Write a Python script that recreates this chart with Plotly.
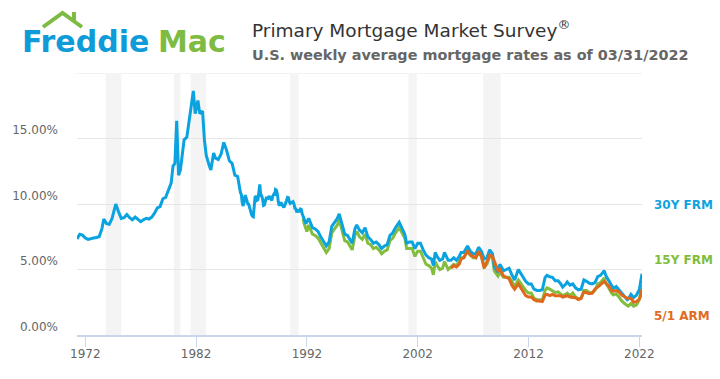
import plotly.graph_objects as go

# ---------------- data ----------------
frm30_dates = ["1971-04-02","1971-07","1971-10","1972-01","1972-04","1972-07","1972-10",
"1973-01","1973-04","1973-07","1973-09","1973-12","1974-03","1974-06","1974-10",
"1975-01","1975-04","1975-07","1975-10","1976-01","1976-04","1976-07","1976-10",
"1977-01","1977-04","1977-07","1977-10","1978-01","1978-04","1978-07","1978-10",
"1979-01","1979-04","1979-07","1979-10","1979-12","1980-02","1980-04","1980-06","1980-08","1980-10","1980-12",
"1981-03","1981-05","1981-07","1981-10","1981-12","1982-03","1982-05","1982-08","1982-10","1982-12",
"1983-03","1983-05","1983-08","1983-10","1984-01","1984-04","1984-07","1984-10",
"1985-01","1985-04","1985-07","1985-10",
"1986-01","1986-02","1986-03","1986-04","1986-05","1986-06","1986-07","1986-08","1986-09","1986-10","1986-11","1986-12",
"1987-01","1987-02","1987-03","1987-04","1987-05","1987-06","1987-07","1987-08","1987-09","1987-10","1987-11","1987-12",
"1988-01","1988-02","1988-03","1988-04","1988-05","1988-06","1988-07","1988-08","1988-09","1988-10","1988-11","1988-12",
"1989-01","1989-02","1989-03","1989-04","1989-05","1989-06","1989-07","1989-08","1989-09","1989-10","1989-11","1989-12",
"1990-01","1990-02","1990-03","1990-04","1990-05","1990-06","1990-07","1990-08","1990-09","1990-10","1990-11","1990-12",
"1991-01","1991-02","1991-03","1991-04","1991-05","1991-06","1991-07","1991-08","1991-09","1991-10","1991-11","1991-12",
"1992-03","1992-07","1992-10",
"1993-01","1993-04","1993-07","1993-10","1994-01","1994-04","1994-07","1994-10","1994-12",
"1995-03","1995-06","1995-09","1995-12","1996-02","1996-05","1996-07","1996-10",
"1997-01","1997-04","1997-07","1997-10","1998-01","1998-04","1998-07","1998-10",
"1999-01","1999-04","1999-07","1999-10","2000-01","2000-05","2000-08","2000-11",
"2001-01","2001-04","2001-07","2001-10","2002-01","2002-04","2002-07","2002-10",
"2003-01","2003-04","2003-06","2003-08","2003-10","2004-01","2004-04","2004-06","2004-10",
"2005-01","2005-04","2005-07","2005-10","2005-12","2006-03","2006-06","2006-07","2006-10",
"2007-01","2007-04","2007-07","2007-10","2008-01","2008-04","2008-07","2008-10","2008-12",
"2009-04","2009-06","2009-10","2010-01","2010-04","2010-07","2010-10",
"2011-02","2011-04","2011-07","2011-10","2012-01","2012-04","2012-07","2012-10",
"2013-01","2013-04","2013-07","2013-09","2013-12","2014-03","2014-06","2014-09","2014-12",
"2015-02","2015-05","2015-07","2015-10","2016-01","2016-04","2016-07","2016-10",
"2017-01","2017-04","2017-07","2017-10","2018-01","2018-04","2018-07","2018-11",
"2019-01","2019-04","2019-07","2019-09","2019-12","2020-03","2020-06","2020-09","2020-12",
"2021-01","2021-04","2021-07","2021-10","2022-01","2022-02","2022-03-31"]
frm30_values = [7.33,7.69,7.62,7.40,7.30,7.38,7.40,
7.44,7.50,8.10,8.85,8.50,8.45,8.90,10.0,
9.40,8.90,8.95,9.20,8.95,8.80,9.00,8.85,
8.65,8.80,8.90,8.85,9.00,9.30,9.70,9.80,
10.40,10.50,11.00,11.60,12.90,13.10,16.35,12.20,12.60,13.80,14.90,
15.10,16.10,16.80,18.63,16.90,17.90,16.90,17.10,14.90,13.70,
13.00,12.60,13.90,13.50,13.40,13.80,14.70,14.10,
13.30,13.10,12.20,12.10,
10.88,10.71,10.08,9.85,10.14,10.68,10.51,10.20,10.01,9.98,9.70,9.31,
9.20,9.08,9.04,9.83,10.60,10.54,10.28,10.33,10.89,11.50,10.65,10.64,
10.38,9.89,9.93,10.20,10.46,10.46,10.43,10.60,10.48,10.30,10.27,10.61,
10.73,10.65,11.10,11.05,10.77,10.20,9.88,9.99,10.13,9.95,9.77,9.74,
9.90,10.20,10.27,10.50,10.48,10.16,10.04,10.10,10.18,10.18,10.01,9.67,
9.64,9.37,9.50,9.49,9.47,9.62,9.58,9.24,9.01,8.86,8.71,8.50,
8.90,8.20,8.10,
7.90,7.50,7.20,6.80,7.10,8.30,8.60,8.90,9.25,
8.50,7.70,7.60,7.20,7.00,8.10,8.40,8.00,
7.80,8.20,7.50,7.30,7.00,7.10,6.90,6.60,
6.80,6.90,7.60,7.80,8.20,8.60,8.10,7.70,
7.00,7.10,7.10,6.60,7.00,7.00,6.50,6.10,
5.90,5.80,5.30,6.30,6.00,5.70,5.80,6.30,5.70,
5.70,5.90,5.70,6.00,6.30,6.30,6.70,6.80,6.40,
6.20,6.20,6.70,6.40,5.80,5.90,6.50,6.20,5.20,
4.80,5.40,4.90,5.00,5.10,4.60,4.20,
5.00,4.80,4.50,4.10,3.90,3.90,3.50,3.40,
3.40,3.45,4.40,4.55,4.45,4.40,4.15,4.15,3.90,
3.65,3.85,4.05,3.80,3.90,3.60,3.45,3.50,
4.20,4.10,3.95,3.90,4.00,4.45,4.55,4.90,
4.50,4.15,3.75,3.55,3.70,3.45,3.15,2.90,2.70,
2.75,3.10,2.85,3.05,3.45,3.90,4.67]

frm15_dates = ["1991-08-30","1991-10","1992-01","1992-03","1992-07","1992-10",
"1993-01","1993-04","1993-07","1993-10","1994-01","1994-04","1994-07","1994-10","1994-12",
"1995-03","1995-06","1995-09","1995-12","1996-02","1996-05","1996-07","1996-10",
"1997-01","1997-04","1997-07","1997-10","1998-01","1998-04","1998-07","1998-10",
"1999-01","1999-04","1999-07","1999-10","2000-01","2000-05","2000-08","2000-11",
"2001-01","2001-04","2001-07","2001-10","2002-01","2002-04","2002-07","2002-10",
"2003-01","2003-04","2003-06","2003-08","2003-10","2004-01","2004-04","2004-06","2004-10",
"2005-01","2005-04","2005-07","2005-10","2005-12","2006-03","2006-06","2006-07","2006-10",
"2007-01","2007-04","2007-07","2007-10","2008-01","2008-04","2008-07","2008-10","2008-12",
"2009-04","2009-06","2009-10","2010-01","2010-04","2010-07","2010-10",
"2011-02","2011-04","2011-07","2011-10","2012-01","2012-04","2012-07","2012-10",
"2013-01","2013-04","2013-07","2013-09","2013-12","2014-03","2014-06","2014-09","2014-12",
"2015-02","2015-05","2015-07","2015-10","2016-01","2016-04","2016-07","2016-10",
"2017-01","2017-04","2017-07","2017-10","2018-01","2018-04","2018-07","2018-11",
"2019-01","2019-04","2019-07","2019-09","2019-12","2020-03","2020-06","2020-09","2020-12",
"2021-01","2021-04","2021-07","2021-10","2022-01","2022-02","2022-03-31"]
frm15_values = [8.90,8.50,7.90,8.40,7.70,7.60,
7.40,7.00,6.70,6.30,6.60,7.80,8.10,8.40,8.80,
8.10,7.20,7.10,6.80,6.50,7.60,7.90,7.50,
7.30,7.70,7.00,6.90,6.60,6.70,6.50,6.20,
6.40,6.50,7.20,7.40,7.80,8.20,7.80,7.40,
6.60,6.60,6.60,6.00,6.40,6.40,5.90,5.40,
5.30,5.10,4.60,5.60,5.30,5.00,5.10,5.60,5.00,
5.20,5.40,5.30,5.60,5.90,5.90,6.30,6.40,6.10,
5.90,5.90,6.30,6.00,5.20,5.40,6.00,5.90,4.90,
4.50,4.80,4.40,4.40,4.40,4.10,3.70,
4.20,4.00,3.70,3.40,3.20,3.20,2.80,2.70,
2.70,2.65,3.40,3.60,3.50,3.40,3.25,3.30,3.15,
3.00,3.10,3.20,3.00,3.20,2.90,2.75,2.80,
3.40,3.40,3.25,3.20,3.40,3.90,4.00,4.35,
3.90,3.60,3.20,3.05,3.15,2.90,2.60,2.40,2.20,
2.20,2.40,2.20,2.30,2.70,3.10,3.83]

arm51_dates = ["2005-01-06","2005-04","2005-07","2005-10","2005-12","2006-03","2006-06","2006-07","2006-10",
"2007-01","2007-04","2007-07","2007-10","2008-01","2008-04","2008-07","2008-10","2008-12",
"2009-04","2009-06","2009-10","2010-01","2010-04","2010-07","2010-10",
"2011-02","2011-04","2011-07","2011-10","2012-01","2012-04","2012-07","2012-10",
"2013-01","2013-04","2013-07","2013-09","2013-12","2014-03","2014-06","2014-09","2014-12",
"2015-02","2015-05","2015-07","2015-10","2016-01","2016-04","2016-07","2016-10",
"2017-01","2017-04","2017-07","2017-10","2018-01","2018-04","2018-07","2018-11",
"2019-01","2019-04","2019-07","2019-09","2019-12","2020-03","2020-06","2020-09","2020-12",
"2021-01","2021-04","2021-07","2021-10","2022-01","2022-02","2022-03-31"]
arm51_values = [5.10,5.30,5.20,5.40,5.80,5.90,6.30,6.40,6.10,
6.00,5.90,6.40,6.00,5.10,5.60,6.10,6.00,5.60,
4.90,5.00,4.50,4.40,4.30,3.80,3.50,
3.90,3.70,3.30,3.00,2.90,2.90,2.70,2.60,
2.60,2.55,3.05,3.10,3.00,3.10,3.00,3.00,3.00,
2.90,2.95,3.00,2.90,2.90,2.85,2.70,2.80,
3.30,3.20,3.15,3.20,3.50,3.65,3.85,4.10,
3.95,3.75,3.40,3.35,3.40,3.30,3.05,2.90,2.80,
2.80,2.80,2.50,2.55,2.75,2.90,3.50]

recession_starts = ["1973-11-01","1980-01-01","1981-07-01","1990-07-01","2001-03-01","2007-12-01"]
recession_ends   = ["1975-03-31","1980-07-31","1982-11-30","1991-03-31","2001-11-30","2009-06-30"]

y_max = 20
y_tickvals = [0, 5, 10, 15]
y_ticktext = ["0.00%", "5.00%", "10.00%", "15.00%"]
x_tickvals = ["1972-01-01","1982-01-01","1992-01-01","2002-01-01","2012-01-01","2022-01-01"]
x_ticktext = ["1972","1982","1992","2002","2012","2022"]

BLUE = "#0aa3e0"
GREEN = "#82bd3e"
ORANGE = "#e0681c"

# ---------------- figure ----------------
fig = go.Figure()
fig.add_trace(go.Scatter(x=frm15_dates, y=frm15_values, mode="lines",
                         line=dict(color=GREEN, width=3), name="15Y FRM"))
fig.add_trace(go.Scatter(x=frm30_dates, y=frm30_values, mode="lines",
                         line=dict(color=BLUE, width=3), name="30Y FRM"))
fig.add_trace(go.Scatter(x=arm51_dates, y=arm51_values, mode="lines",
                         line=dict(color=ORANGE, width=3), name="5/1 ARM"))

for s, e in zip(recession_starts, recession_ends):
    fig.add_shape(type="rect", xref="x", yref="y", x0=s, x1=e, y0=0, y1=y_max,
                  fillcolor="#f4f4f4", line=dict(width=0), layer="below")
# top gridline (unlabelled)
fig.add_shape(type="line", xref="x domain", yref="y", x0=0, x1=1, y0=y_max, y1=y_max,
              line=dict(color="#e6e6e6", width=1), layer="below")

L, R, T, B = 77, 642, 73, 335
W, H = 720, 379
def px(x):
    return (x - L) / (R - L)
def py(y):
    return (B - y) / (B - T)

# roof of logo
fig.add_shape(type="path", xref="paper", yref="paper",
              path=f"M {px(43)},{py(27)} L {px(62.5)},{py(13)} L {px(82)},{py(27)}",
              line=dict(color="#7dbb42", width=4))
fig.add_shape(type="rect", xref="paper", yref="paper",
              x0=px(72), x1=px(76), y0=py(21), y1=py(12),
              fillcolor="#7dbb42", line=dict(width=0))

ann = []
ann.append(dict(text="Freddie", x=px(20), y=py(61), xanchor="left", yanchor="bottom",
                font=dict(family="DejaVu Sans", size=30, color="#0f9bd7", weight="bold")))
ann.append(dict(text="Mac", x=px(156), y=py(61), xanchor="left", yanchor="bottom",
                font=dict(family="DejaVu Sans", size=30, color="#7dbb42", weight="bold")))
ann.append(dict(text="Primary Mortgage Market Survey<sup>®</sup>", x=px(250), y=py(29),
                xanchor="left", yanchor="middle",
                font=dict(family="DejaVu Sans", size=18.5, color="#333333")))
ann.append(dict(text="<b>U.S. weekly average mortgage rates as of 03/31/2022</b>", x=px(250), y=py(55),
                xanchor="left", yanchor="middle",
                font=dict(family="DejaVu Sans", size=14.4, color="#666666")))
ann.append(dict(text="<b>30Y FRM</b>", x=px(652), y=py(205), xanchor="left", yanchor="middle",
                font=dict(family="DejaVu Sans", size=12, color="#12a2df")))
ann.append(dict(text="<b>15Y FRM</b>", x=px(652), y=py(260), xanchor="left", yanchor="middle",
                font=dict(family="DejaVu Sans", size=12, color="#7fbd3d")))
ann.append(dict(text="<b>5/1 ARM</b>", x=px(652), y=py(316), xanchor="left", yanchor="middle",
                font=dict(family="DejaVu Sans", size=12, color="#df6c1f")))
for a in ann:
    a.update(xref="paper", yref="paper", showarrow=False)

fig.update_layout(
    width=W, height=H,
    margin=dict(l=L, r=W - R, t=T, b=H - B, pad=0),
    paper_bgcolor="white", plot_bgcolor="white",
    showlegend=False,
    annotations=ann,
    font=dict(family="DejaVu Sans", size=12, color="#666666"),
)
fig.update_xaxes(type="date", range=["1971-04-02", "2022-03-31"],
                 tickvals=x_tickvals, ticktext=x_ticktext,
                 showgrid=False, zeroline=False,
                 showline=True, linecolor="#ccd6eb", linewidth=2,
                 ticks="outside", ticklen=10, tickcolor="#ccd6eb", tickwidth=1,
                 ticklabelstandoff=-3,
                 tickfont=dict(family="DejaVu Sans", size=12, color="#666666"))
fig.update_yaxes(range=[0, y_max], tickvals=y_tickvals, ticktext=y_ticktext,
                 showgrid=True, gridcolor="#e6e6e6", gridwidth=1, zeroline=False,
                 showline=False, ticks="", ticklabelposition="outside top",
                 ticklabelstandoff=18,
                 tickfont=dict(family="DejaVu Sans", size=12, color="#666666"))

fig.write_html("out.html", config={"displayModeBar": False},
               post_script="document.body.style.margin='0';document.body.style.overflow='hidden';")
